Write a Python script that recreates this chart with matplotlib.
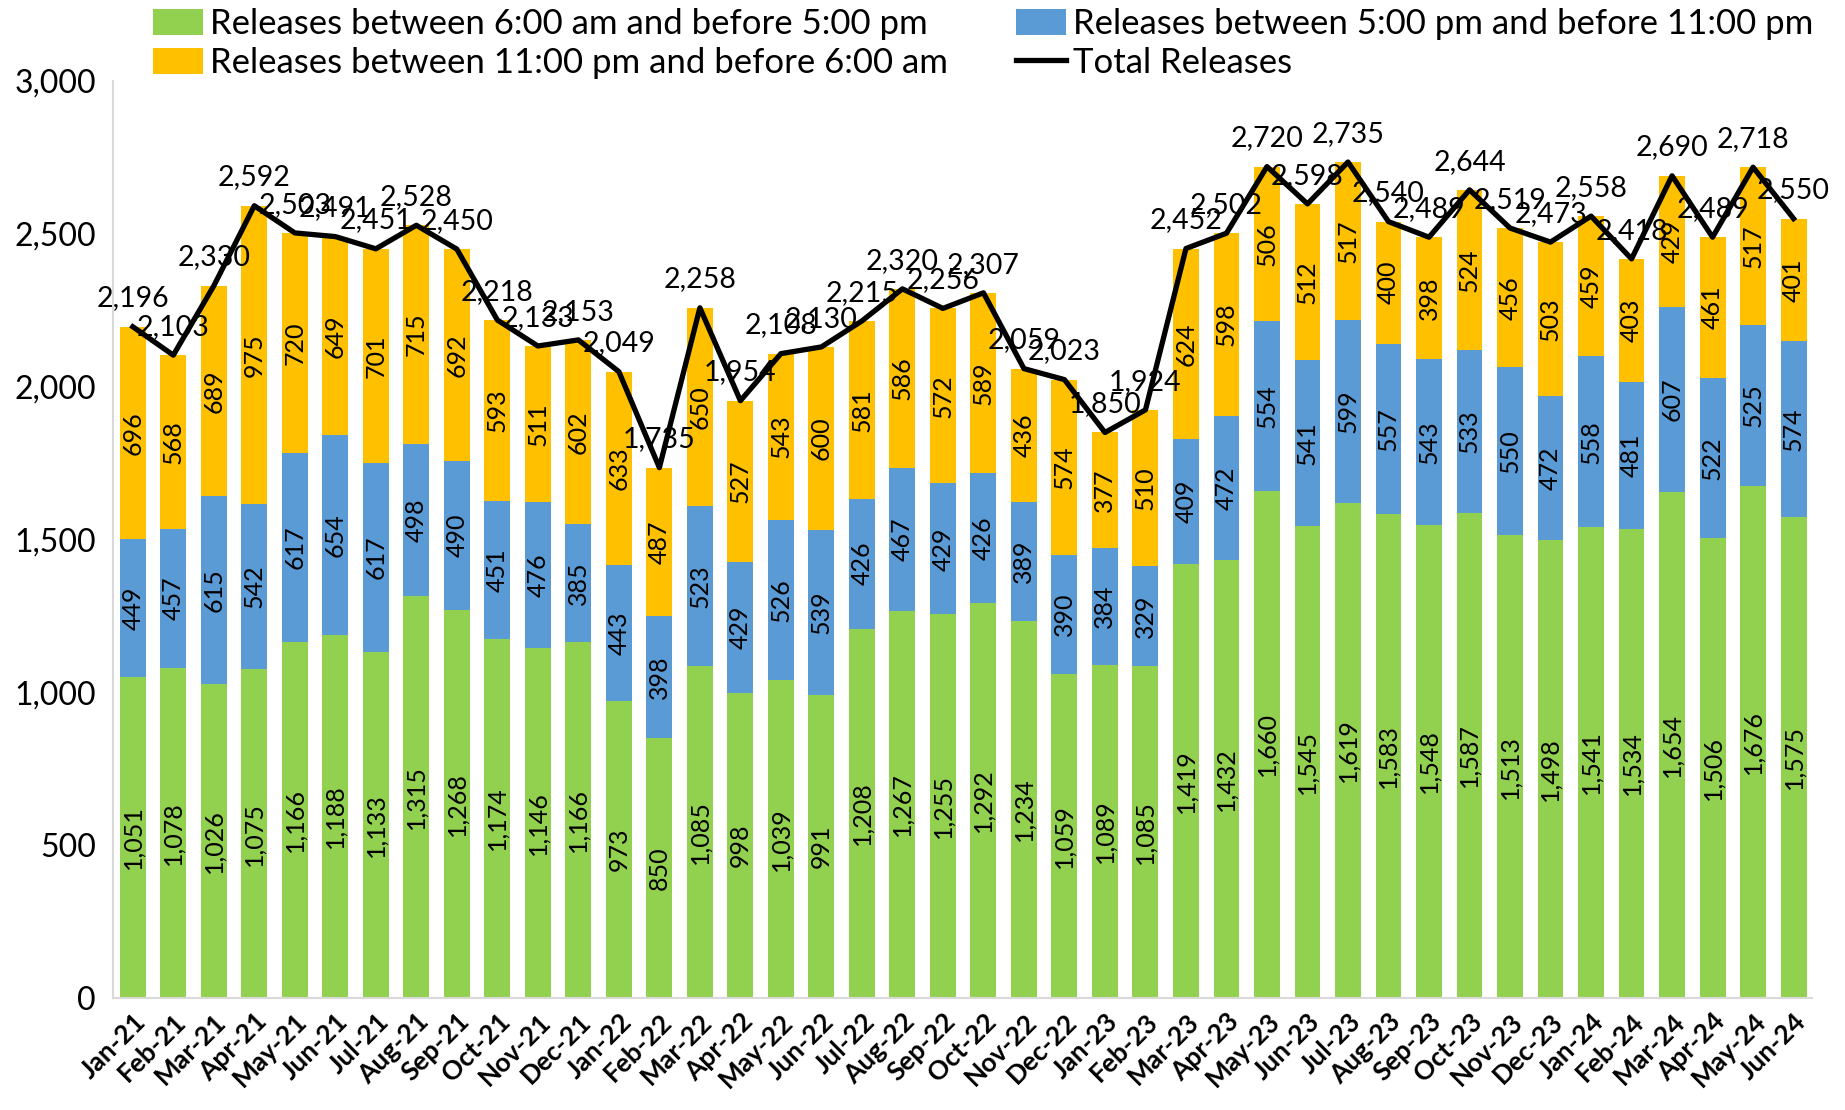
import matplotlib
matplotlib.use('Agg')
import matplotlib.pyplot as plt
import matplotlib.ticker as mticker
import numpy as np

plt.rcParams['font.family'] = ['Lato', 'DejaVu Sans']

# ── data ─────────────────────────────────────────────────────
months = ['Jan-21', 'Feb-21', 'Mar-21', 'Apr-21', 'May-21', 'Jun-21', 'Jul-21', 'Aug-21',
          'Sep-21', 'Oct-21', 'Nov-21', 'Dec-21', 'Jan-22', 'Feb-22', 'Mar-22', 'Apr-22',
          'May-22', 'Jun-22', 'Jul-22', 'Aug-22', 'Sep-22', 'Oct-22', 'Nov-22', 'Dec-22',
          'Jan-23', 'Feb-23', 'Mar-23', 'Apr-23', 'May-23', 'Jun-23', 'Jul-23', 'Aug-23',
          'Sep-23', 'Oct-23', 'Nov-23', 'Dec-23', 'Jan-24', 'Feb-24', 'Mar-24', 'Apr-24',
          'May-24', 'Jun-24']
day = [1051, 1078, 1026, 1075, 1166, 1188, 1133, 1315, 1268, 1174, 1146, 1166, 973, 850,
       1085, 998, 1039, 991, 1208, 1267, 1255, 1292, 1234, 1059, 1089, 1085, 1419, 1432,
       1660, 1545, 1619, 1583, 1548, 1587, 1513, 1498, 1541, 1534, 1654, 1506, 1676, 1575]
evening = [449, 457, 615, 542, 617, 654, 617, 498, 490, 451, 476, 385, 443, 398, 523, 429,
           526, 539, 426, 467, 429, 426, 389, 390, 384, 329, 409, 472, 554, 541, 599, 557,
           543, 533, 550, 472, 558, 481, 607, 522, 525, 574]
night = [696, 568, 689, 975, 720, 649, 701, 715, 692, 593, 511, 602, 633, 487, 650, 527,
         543, 600, 581, 586, 572, 589, 436, 574, 377, 510, 624, 598, 506, 512, 517, 400,
         398, 524, 456, 503, 459, 403, 429, 461, 517, 401]
total = [2196, 2103, 2330, 2592, 2503, 2491, 2451, 2528, 2450, 2218, 2133, 2153, 2049, 1735,
         2258, 1954, 2108, 2130, 2215, 2320, 2256, 2307, 2059, 2023, 1850, 1924, 2452, 2502,
         2720, 2598, 2735, 2540, 2489, 2644, 2519, 2473, 2558, 2418, 2690, 2489, 2718, 2550]

labels = ['Releases between 6:00 am and before 5:00 pm',
          'Releases between 5:00 pm and before 11:00 pm',
          'Releases between 11:00 pm and before 6:00 am',
          'Total Releases']
colors = ['#92D050', '#5B9BD5', '#FFC000']

# ── figure ───────────────────────────────────────────────────
fig = plt.figure(figsize=(18.45, 11.1), dpi=100)
ax = fig.add_axes([0.061, 0.101, 0.921, 0.826])

x = np.arange(len(months))
w = 0.64
day = np.array(day)
evening = np.array(evening)
night = np.array(night)

b1 = ax.bar(x, day, w, color=colors[0], label=labels[0], zorder=2)
b2 = ax.bar(x, evening, w, bottom=day, color=colors[1], label=labels[1], zorder=2)
b3 = ax.bar(x, night, w, bottom=day + evening, color=colors[2], label=labels[2], zorder=2)
ln, = ax.plot(x, total, color='black', linewidth=3.8, label=labels[3], zorder=3)

fs = 18
for bars, vals, bottoms in [(b1, day, np.zeros_like(day)), (b2, evening, day),
                            (b3, night, day + evening)]:
    for xi, v, b in zip(x, vals, bottoms):
        ax.text(xi, b + v / 2, f'{v:,}', rotation=90, ha='center', va='center',
                fontsize=fs, color='black', zorder=4)

for xi, t in zip(x, total):
    ax.annotate(f'{t:,}', (xi, t), xytext=(0, 11), textcoords='offset points',
                ha='center', va='bottom', fontsize=20.5, zorder=5)

ax.set_xlim(-0.5, len(months) - 0.55)
ax.set_ylim(0, 3000)
ax.yaxis.set_major_locator(mticker.MultipleLocator(500))
ax.yaxis.set_major_formatter(mticker.FuncFormatter(lambda v, p: f'{int(v):,}'))
ax.set_xticks(x)
ax.set_xticklabels(months, rotation=45, ha='right', rotation_mode='anchor',
                   fontsize=19, fontweight='bold')
ax.tick_params(axis='y', labelsize=23, length=0, pad=12)
ax.tick_params(axis='x', length=0, pad=8)

for s in ['top', 'right']:
    ax.spines[s].set_visible(False)
for s in ['left', 'bottom']:
    ax.spines[s].set_color('#D9D9D9')
    ax.spines[s].set_linewidth(1.5)

fig.legend(handles=[b1, b3, b2, ln], labels=[labels[0], labels[2], labels[1], labels[3]],
           ncol=2, loc='upper left', bbox_to_anchor=(0.066, 1.021), frameon=False,
           fontsize=25, handlelength=1.45, handleheight=0.8, handletextpad=0.2,
           columnspacing=1.95, labelspacing=0.2)

fig.savefig('out.png', dpi=100)
